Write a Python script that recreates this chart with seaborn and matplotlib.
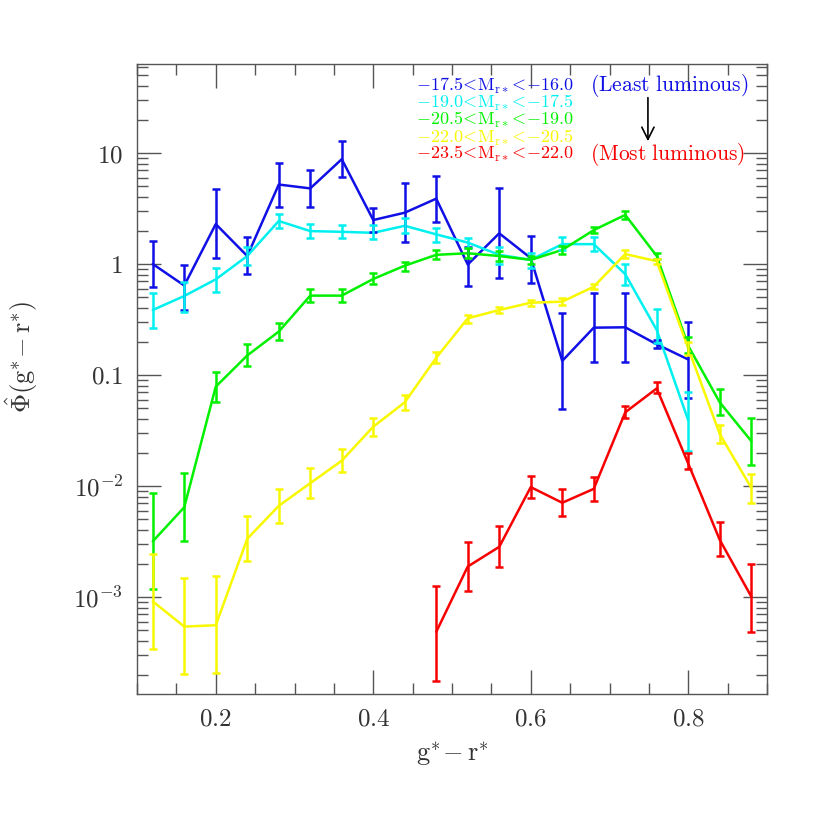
import numpy as np
import pandas as pd
import matplotlib
matplotlib.use("Agg")
import matplotlib.pyplot as plt
import matplotlib.ticker as mticker
import seaborn as sns

x_all = [0.12, 0.16, 0.20, 0.24, 0.28, 0.32, 0.36, 0.40, 0.44, 0.48,
         0.52, 0.56, 0.60, 0.64, 0.68, 0.72, 0.76, 0.80, 0.84, 0.88]

# Least luminous (blue): 0.12 .. 0.80
blue_x = x_all[:18]
blue_y = [1.0, 0.64, 2.29, 1.18, 5.2, 4.8, 8.8, 2.49, 2.9, 3.88,
          0.99, 1.89, 1.13, 0.134, 0.267, 0.269, 0.189, 0.138]
blue_hi = [1.62, 0.98, 4.7, 1.76, 8.2, 7.06, 12.8, 3.17, 5.4, 6.25,
           1.43, 4.8, 1.79, 0.36, 0.545, 0.545, 0.205, 0.298]
blue_lo = [0.62, 0.385, 1.14, 0.82, 3.28, 3.28, 6.05, 1.95, 1.57, 2.4,
           0.63, 0.75, 0.67, 0.049, 0.132, 0.132, 0.175, 0.062]

# cyan: 0.12 .. 0.80
cyan_x = x_all[:18]
cyan_y = [0.385, 0.515, 0.727, 1.18, 2.44, 1.98, 1.95, 1.91, 2.21, 1.85,
          1.56, 1.21, 1.09, 1.51, 1.51, 0.81, 0.254, 0.039]
cyan_hi = [0.55, 0.69, 0.915, 1.43, 2.8, 2.29, 2.25, 2.23, 2.58, 2.1,
           1.73, 1.41, 1.26, 1.74, 1.74, 0.99, 0.39, 0.071]
cyan_lo = [0.267, 0.37, 0.563, 0.98, 2.13, 1.72, 1.7, 1.67, 1.91, 1.59,
           1.40, 1.0, 0.915, 1.34, 1.32, 0.65, 0.193, 0.0205]

# green: 0.12 .. 0.88
green_x = x_all
green_y = [0.00317, 0.00643, 0.0785, 0.150, 0.246, 0.519, 0.519, 0.733, 0.966, 1.21,
           1.25, 1.18, 1.09, 1.34, 2.02, 2.77, 1.18, 0.183, 0.0567, 0.0254]
green_hi = [0.0086, 0.0132, 0.107, 0.19, 0.296, 0.595, 0.595, 0.824, 1.05, 1.34,
            1.38, 1.30, 1.18, 1.45, 2.14, 3.0, 1.26, 0.221, 0.0747, 0.041]
green_lo = [0.00119, 0.00317, 0.0576, 0.121, 0.207, 0.452, 0.452, 0.656, 0.87, 1.10,
            1.13, 1.07, 1.0, 1.23, 1.89, 2.52, 1.10, 0.157, 0.0436, 0.0153]

# yellow: 0.12 .. 0.88
yellow_x = x_all
yellow_y = [0.000913, 0.000541, 0.000556, 0.00334, 0.00662, 0.0106, 0.0169, 0.0342, 0.0567, 0.143,
            0.324, 0.385, 0.448, 0.458, 0.625, 1.23, 1.06, 0.174, 0.0294, 0.00964]
yellow_hi = [0.00245, 0.00147, 0.00154, 0.00536, 0.00948, 0.0144, 0.0216, 0.0408, 0.066, 0.160,
             0.348, 0.41, 0.475, 0.49, 0.66, 1.34, 1.12, 0.2, 0.0355, 0.0128]
yellow_lo = [0.00034, 0.000203, 0.000207, 0.00209, 0.00465, 0.00776, 0.0133, 0.0283, 0.0484, 0.127,
             0.296, 0.36, 0.42, 0.43, 0.59, 1.13, 1.0, 0.152, 0.0243, 0.00699]

# Most luminous (red): 0.48 .. 0.88
red_x = x_all[9:]
red_y = [0.000485, 0.00188, 0.00283, 0.00977, 0.00706, 0.00942, 0.0461, 0.0757, 0.0159, 0.00327, 0.00101]
red_hi = [0.00126, 0.00312, 0.00434, 0.0124, 0.0093, 0.012, 0.0529, 0.0856, 0.0197, 0.00472, 0.00197]
red_lo = [0.000176, 0.00114, 0.00185, 0.00776, 0.0054, 0.0074, 0.0408, 0.0685, 0.0142, 0.00232, 0.000479]

labels = [r"$-17.5\!<\!\mathrm{M}_{\mathrm{r}*}\!<\!{-}16.0$",
          r"$-19.0\!<\!\mathrm{M}_{\mathrm{r}*}\!<\!{-}17.5$",
          r"$-20.5\!<\!\mathrm{M}_{\mathrm{r}*}\!<\!{-}19.0$",
          r"$-22.0\!<\!\mathrm{M}_{\mathrm{r}*}\!<\!{-}20.5$",
          r"$-23.5\!<\!\mathrm{M}_{\mathrm{r}*}\!<\!{-}22.0$"]
colors = ["#1010e6", "#00f0f0", "#00f000", "#f8f800", "#f80000"]

series = [
    (blue_x, blue_y, blue_lo, blue_hi),
    (cyan_x, cyan_y, cyan_lo, cyan_hi),
    (green_x, green_y, green_lo, green_hi),
    (yellow_x, yellow_y, yellow_lo, yellow_hi),
    (red_x, red_y, red_lo, red_hi),
]

sns.set_theme(style="ticks")
plt.rcParams["mathtext.fontset"] = "cm"
plt.rcParams["font.family"] = ["DejaVu Serif", "DejaVu Sans"]

fig = plt.figure(figsize=(8.3, 8.3), dpi=100)
ax = fig.add_axes([137/830, 1 - 694/830, 630/830, 630/830])

rows = []
for i, (xs, ys, lo, hi) in enumerate(series):
    for xv, yv in zip(xs, ys):
        rows.append({"x": xv, "y": yv, "grp": labels[i]})
df = pd.DataFrame(rows)

ax.set_yscale("log")
sns.lineplot(data=df, x="x", y="y", hue="grp", palette=dict(zip(labels, colors)),
             linewidth=1.8, legend=False, ax=ax, estimator=None, sort=False)
for i, (xs, ys, lo, hi) in enumerate(series):
    ys_a = np.array(ys); lo_a = np.array(lo); hi_a = np.array(hi)
    ax.errorbar(xs, ys_a, yerr=[ys_a - lo_a, hi_a - ys_a], fmt="none",
                ecolor=colors[i], elinewidth=1.8, capsize=3, capthick=1.8, zorder=3)

ax.set_xlim(0.1, 0.9)
ax.set_ylim(1.336e-4, 63.4)

# ticks
ax.xaxis.set_major_locator(mticker.FixedLocator([0.2, 0.4, 0.6, 0.8]))
ax.xaxis.set_major_formatter(mticker.FixedFormatter([r"$\mathrm{0.2}$", r"$\mathrm{0.4}$",
                                                     r"$\mathrm{0.6}$", r"$\mathrm{0.8}$"]))
ax.xaxis.set_minor_locator(mticker.MultipleLocator(0.05))
ax.yaxis.set_major_locator(mticker.FixedLocator([1e-3, 1e-2, 0.1, 1, 10]))
ax.yaxis.set_major_formatter(mticker.FixedFormatter([r"$10^{-3}$", r"$10^{-2}$",
                                                     r"$\mathrm{0.1}$", r"$\mathrm{1}$", r"$\mathrm{10}$"]))
ax.yaxis.set_minor_locator(mticker.LogLocator(base=10, subs=np.arange(2, 10), numticks=20))
ax.yaxis.set_minor_formatter(mticker.NullFormatter())

tc = "#555555"
ax.tick_params(which="both", direction="in", top=True, right=True, color=tc,
               labelcolor="#333333", labelsize=18, width=1.0)
ax.tick_params(which="major", length=17, pad=10)
ax.tick_params(which="minor", length=8)
for s in ax.spines.values():
    s.set_color(tc)
    s.set_linewidth(1.0)

ax.set_xlabel(r"$\mathrm{g}^{*}\!-\mathrm{r}^{*}$", fontsize=19, color="#333333")
ax.set_ylabel(r"$\hat{\Phi}(\mathrm{g}^{*}\!-\mathrm{r}^{*})$", fontsize=19, color="#333333")
ax.xaxis.set_label_coords(0.5, -0.073)
ax.yaxis.set_label_coords(-0.154, 0.535)

# legend text block
ys_txt = [0.9656, 0.9376, 0.9111, 0.8830, 0.8571]
for i, lab in enumerate(labels):
    ax.text(0.443, ys_txt[i], lab, transform=ax.transAxes, color=colors[i],
            fontsize=13, va="center", ha="left")
ax.text(0.719, ys_txt[0], r"$\mathrm{(Least\ luminous)}$", transform=ax.transAxes,
        color=colors[0], fontsize=15.5, va="center", ha="left")
ax.text(0.719, ys_txt[4], r"$\mathrm{(Most\ luminous)}$", transform=ax.transAxes,
        color=colors[4], fontsize=15.5, va="center", ha="left")
ax.annotate("", xy=(0.811, 0.873), xytext=(0.811, 0.951), xycoords="axes fraction",
            arrowprops=dict(arrowstyle="->", color="black", lw=1.2, mutation_scale=22))

fig.savefig("out.png", dpi=100)
